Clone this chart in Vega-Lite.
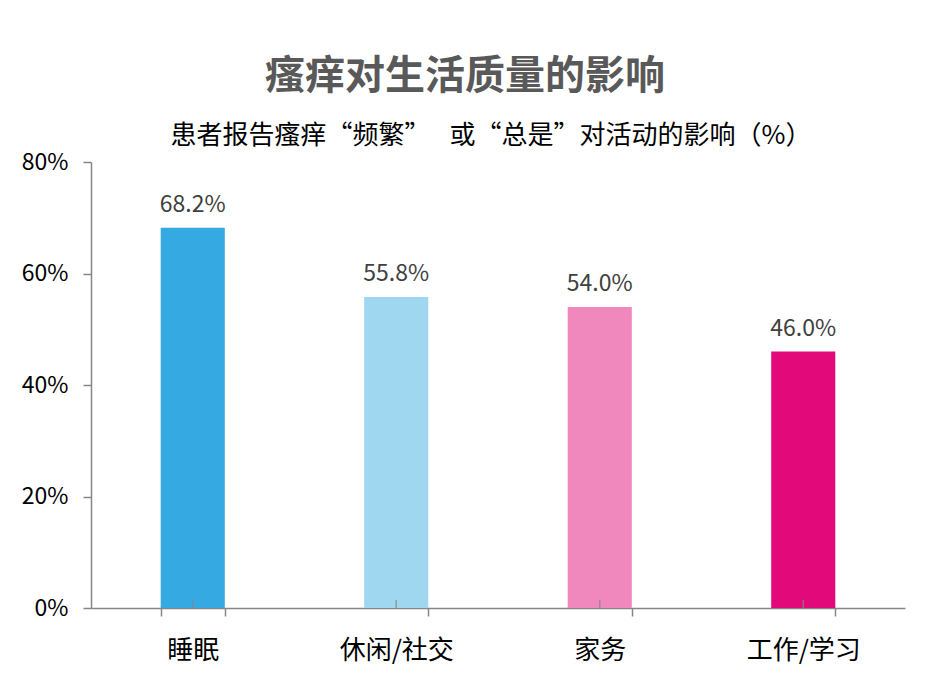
{
  "$schema": "https://vega.github.io/schema/vega-lite/v6.json",
  "width": 814,
  "height": 446,
  "autosize": "none",
  "padding": {"left": 91, "top": 162, "right": 35, "bottom": 82},
  "background": "white",
  "config": {"view": {"stroke": null}, "font": "Noto Sans CJK SC"},
  "title": {
    "text": "瘙痒对生活质量的影响",
    "subtitle": "\u200b　　患者报告瘙痒“频繁”　 或“总是”对活动的影响（%）",
    "anchor": "middle",
    "dx": -33,
    "fontSize": 40,
    "fontWeight": "bold",
    "color": "#595959",
    "font": "Noto Sans CJK SC",
    "subtitleFont": "Noto Sans CJK SC",
    "subtitleFontSize": 26,
    "subtitleColor": "#000000",
    "subtitlePadding": 26,
    "offset": 2
  },
  "data": {
    "values": [
      {"cat": "睡眠", "v": 68.2, "label": "68.2%"},
      {"cat": "休闲/社交", "v": 55.8, "label": "55.8%"},
      {"cat": "家务", "v": 54.0, "label": "54.0%"},
      {"cat": "工作/学习", "v": 46.0, "label": "46.0%"}
    ]
  },
  "encoding": {
    "x": {
      "field": "cat", "type": "nominal", "sort": null,
      "scale": {"paddingInner": 0.685, "paddingOuter": 0.3425},
      "axis": {
        "title": null, "labelAngle": 0, "labelFontSize": 26, "labelColor": "#000000",
        "domainColor": "#868686", "tickColor": "#868686", "tickSize": 8, "tickBand": "extent",
        "labelPadding": 21, "domainWidth": 1.5, "tickWidth": 1.5
      }
    },
    "y": {
      "field": "v", "type": "quantitative",
      "scale": {"domain": [0, 80]},
      "axis": {
        "title": null, "values": [0, 20, 40, 60, 80], "labelExpr": "datum.value + '%'",
        "labelFontSize": 23, "labelColor": "#000000", "grid": false,
        "domainColor": "#868686", "tickColor": "#868686", "tickSize": 8, "labelPadding": 15,
        "domainWidth": 1.5, "tickWidth": 1.5
      }
    }
  },
  "layer": [
    {
      "mark": {"type": "bar"},
      "encoding": {
        "color": {
          "field": "cat", "type": "nominal", "sort": null, "legend": null,
          "scale": {"range": ["#35a9e1", "#9fd6f0", "#f087bd", "#e20a7a"]}
        }
      }
    },
    {
      "mark": {"type": "text", "baseline": "bottom", "dy": -11, "fontSize": 23, "color": "#404040"},
      "encoding": {"text": {"field": "label"}}
    },
    {
      "mark": {"type": "tick", "orient": "vertical", "size": 8, "yOffset": -4, "color": "#868686", "thickness": 1.5},
      "encoding": {"y": {"datum": 0}}
    }
  ]
}
